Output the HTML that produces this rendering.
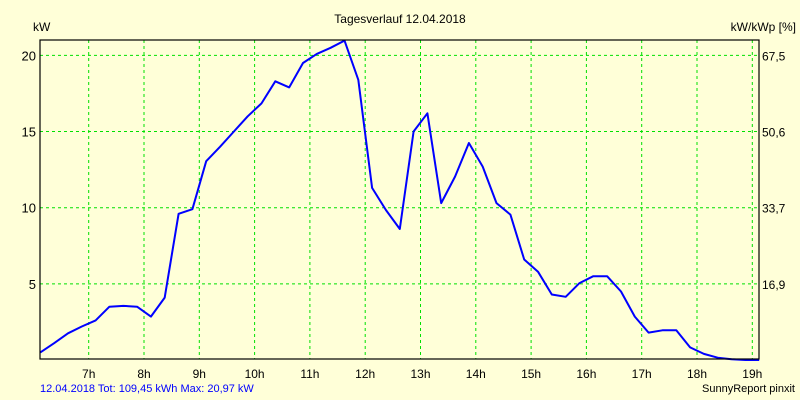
<!DOCTYPE html>
<html><head><meta charset="utf-8"><style>
html,body{margin:0;padding:0;background:#ffffd8;}
svg{display:block;font-family:"Liberation Sans",sans-serif;}
</style></head><body>
<svg id="chart" width="800" height="400" viewBox="0 0 800 400">
<rect x="0" y="0" width="800" height="400" fill="#ffffd8"/>
<text x="400" y="23" text-anchor="middle" font-size="12">Tagesverlauf 12.04.2018</text>
<text x="33" y="31" font-size="12">kW</text>
<text x="796" y="31" text-anchor="end" font-size="12">kW/kWp [%]</text>
<g id="grid"></g>
<g id="marks"></g>
<rect x="40" y="40" width="719" height="319" fill="none" stroke="#000" stroke-width="1.2"/>
<g id="labels"></g>
<text x="40" y="392" font-size="11" fill="#0000ff">12.04.2018 Tot: 109,45 kWh Max: 20,97 kW</text>
<text x="795" y="392" text-anchor="end" font-size="11">SunnyReport pinxit</text>
</svg>
<script>
const startHour = 6.125;
const stepHours = 0.25;
const powerKw = [0.5,1.1,1.75,2.2,2.6,3.5,3.55,3.5,2.85,4.1,9.6,9.9,13.05,14.0,15.0,16.0,16.85,18.3,17.9,19.5,20.1,20.5,20.97,18.4,11.3,9.85,8.6,15.0,16.2,10.3,12.05,14.25,12.7,10.3,9.55,6.6,5.8,4.3,4.15,5.05,5.5,5.5,4.5,2.85,1.8,1.95,1.95,0.83,0.4,0.15,0.05,0,0];
const xTicks = [7,8,9,10,11,12,13,14,15,16,17,18,19];
const xTickLabels = ["7h","8h","9h","10h","11h","12h","13h","14h","15h","16h","17h","18h","19h"];
const yTicks = [5,10,15,20];
const y2TickLabels = ["16,9","33,7","50,6","67,5"];

const NS = "http://www.w3.org/2000/svg";
function xs(h){ return 88.7 + (h - 7) * 55.3; }
function ys(v){ return 360 - v * 15.23; }
function mk(tag, attrs, parent){
  const e = document.createElementNS(NS, tag);
  for (const k in attrs) e.setAttribute(k, attrs[k]);
  parent.appendChild(e);
  return e;
}
const grid = document.getElementById('grid');
const labels = document.getElementById('labels');
const marks = document.getElementById('marks');
xTicks.forEach((h, i) => {
  const l = mk('line', {x1: xs(h), x2: xs(h), y1: 40, y2: 359, stroke: '#00e000', 'stroke-dasharray': '3,3', 'stroke-width': 1}, grid);
  
  
  const t = mk('text', {x: xs(h), y: 378, 'text-anchor': 'middle', 'font-size': 12}, labels);
  t.textContent = xTickLabels[i];
  
  
});
yTicks.forEach((v, i) => {
  const l = mk('line', {x1: 40, x2: 759, y1: ys(v), y2: ys(v), stroke: '#00e000', 'stroke-dasharray': '3,3', 'stroke-width': 1}, grid);
  
  
  const t = mk('text', {x: 36, y: ys(v) + 5, 'text-anchor': 'end', 'font-size': 13}, labels);
  t.textContent = String(v);
  
  
  const t2 = mk('text', {x: 762, y: ys(v) + 5, 'font-size': 12}, labels);
  t2.textContent = y2TickLabels[i];
  
  
});
const pts = powerKw.map((v, i) => xs(startHour + i * stepHours).toFixed(1) + ',' + ys(v).toFixed(1)).join(' ');
const pl = mk('polyline', {points: pts, fill: 'none', stroke: '#0000ff', 'stroke-width': 2, 'stroke-linejoin': 'round'}, marks);


</script>
</body></html>
